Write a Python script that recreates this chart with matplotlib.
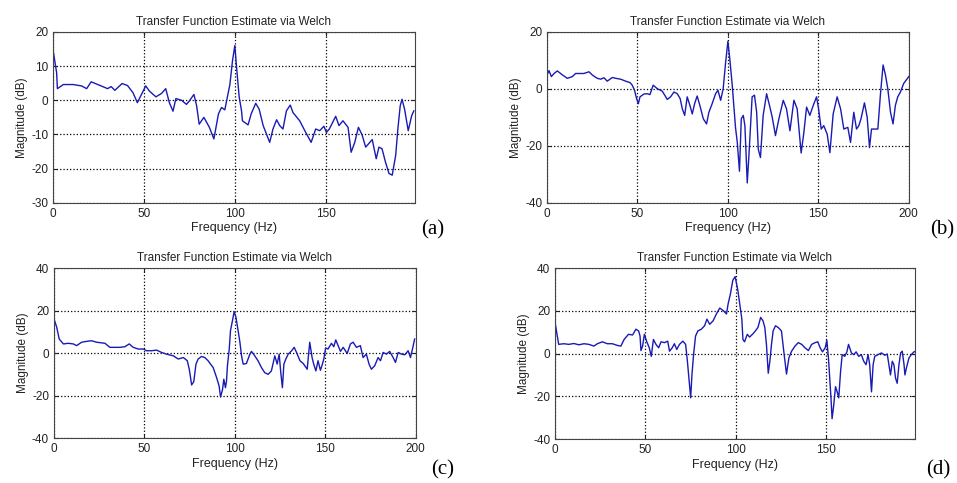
#Four Welch transfer function estimates, MATLAB style subplots
import numpy as np #numerical arrays
import matplotlib
matplotlib.use('Agg') #no display available
import matplotlib.pyplot as plt #plotting

plt.rcParams['font.family'] = ['Liberation Sans', 'DejaVu Sans']
plt.rcParams['axes.unicode_minus'] = False #MATLAB uses a plain hyphen

#Data (frequency in Hz, magnitude in dB)
freq_a = [0, 2, 2.4, 5.7, 11, 15.7, 18.5, 21, 26, 30, 32, 34, 38, 41, 44, 46.4, 47.8, 51, 53, 56.6,
          59.7, 62, 64, 66, 67.6, 70.7, 73.4, 75, 77.5, 79, 80.4, 83, 86, 88.5, 91, 92.7, 94.5, 97.3, 98.7, 100,
          101, 102.4, 103.7, 104.2, 107.3, 109, 111.5, 113.4, 115.6, 119.2, 121, 123, 124.7, 126.5, 128.4, 130.5, 132, 135.7, 139, 142,
          144.5, 146.7, 149, 150.4, 152, 155.5, 157.3, 159.5, 162.3, 164, 166, 168, 170, 172, 175.6, 177.8, 179.3, 181, 182.9, 184.8,
          186.6, 188.5, 189.7, 191, 192, 193.4, 195.4, 197.3, 198.5]
mag_a = [14.8, 8, 3.4, 4.6, 4.6, 4.2, 3.4, 5.4, 4.3, 3.4, 4, 2.9, 4.9, 4.3, 2.2, -0.7, 0.8, 4.2, 2.7, 1,
         2, 3.4, -0.7, -3.2, 0.5, 0, -1.2, -0.2, 1.7, -1.6, -7, -5, -7.9, -11.3, -4, -2.1, -2.8, 4.6, 11.4, 16,
         9.5, 1, -3.1, -6, -7.2, -4, -0.9, -2.6, -7.4, -12.3, -8.4, -5.7, -7.4, -8.4, -3.1, -1.4, -3.6, -6, -9.4, -12.3,
         -8.4, -8.9, -7.6, -9.4, -8.4, -4.7, -7.4, -6, -7.9, -15.2, -12.3, -7.9, -10.1, -13.7, -11.5, -17.1, -13.7, -14.2, -18.1, -21.4,
         -21.9, -16.1, -8.4, -1.6, 0.3, -2.6, -8.9, -4.5, -3.1]

freq_b = [0, 1.1, 2.4, 3.9, 5.7, 8.5, 11.2, 14, 15.8, 20.4, 23.2, 25, 26.3, 27.8, 29.7, 31.5, 33.3, 36.1, 38, 40.7,
          43.5, 45.9, 47.1, 48.4, 49.5, 50.5, 51.4, 53.6, 55.4, 56.9, 58.7, 60.9, 63.7, 66.5, 68.3, 70.2, 72, 73.6, 74.8, 76.1,
          77.5, 79, 80.3, 81.6, 83, 84.5, 86.4, 88.2, 89.5, 91.3, 93.2, 94.5, 96, 97.4, 98.7, 100, 101.1, 102.4, 104.2, 105.2,
          106.4, 107.4, 108.5, 109.4, 110.7, 111.6, 113.4, 114.7, 115.9, 116.8, 118, 119.5, 121.4, 123, 124.5, 126.3, 128.2, 130.6, 132.4, 134.3,
          136.5, 138.3, 140.5, 142, 143.5, 145.3, 147.2, 149, 150, 151.6, 153, 154.9, 156.4, 158.2, 160.4, 162.3, 164.1, 166.3, 167.8, 169.6,
          171.1, 172.4, 173.6, 175.5, 177, 178.3, 179.4, 182.9, 184.3, 185.8, 187.1, 188.4, 189.9, 191.3, 192.6, 193.9, 195.4, 197.2, 200]
mag_b = [4.9, 6.4, 4.3, 5.4, 6.3, 4.9, 3.7, 4.3, 5.4, 5.4, 6, 4.9, 4.3, 3.7, 3.4, 3.9, 2.7, 4, 3.7, 3.4,
         2.7, 2.2, 1.3, -0.5, -3.4, -5.2, -2.8, -1.8, -1.7, -2, 1.3, 0.1, -0.8, -3.7, -2.8, -1.1, -1.7, -3.4, -7, -9.3,
         -2.8, -5.8, -8.8, -5.2, -2.5, -5.8, -10.5, -12.3, -8.2, -5.2, -1.7, -0.5, -4, 0.1, 9, 16.7, 10.2, 1.3, -13.5, -18.8,
         -28.9, -10.5, -9.3, -12.9, -33, -23.6, -2.8, -2.2, -8.2, -21.2, -24.1, -9.3, -1.7, -5.8, -9.9, -16.4, -10.5, -4, -7, -14.7,
         -4, -7, -22.5, -15.3, -6.4, -9.3, -5.8, -2.8, -6.4, -14.1, -12.9, -15.9, -22.4, -8.8, -2.8, -7, -14.1, -13.5, -18.8, -8.2,
         -14.1, -12.9, -10.5, -4.9, -9.9, -20.6, -14.1, -14.1, -2.2, 8.4, 4.9, 0.1, -8.2, -12.3, -5.8, -2.8, -1.1, 1.9, 4.3]

freq_c = [0, 1.5, 2.9, 5.2, 7.9, 10.7, 12.5, 15.3, 18, 20.8, 23.6, 28.2, 30.9, 36.5, 39.2, 41.6, 43.8, 46.6, 49.4, 51.2,
          54, 56.7, 59.5, 62.2, 66, 68.7, 71.5, 73.7, 74.8, 75.5, 76.1, 77.3, 78.5, 79.7, 81.6, 83.4, 85.2, 88, 89.9, 91.3,
          92.1, 93.2, 93.9, 94.8, 95.4, 95.9, 96.9, 97.6, 98.7, 99.6, 100.6, 101.8, 102.8, 103.7, 104.6, 106.4, 108.3, 109.2, 111, 112.8,
          114.7, 116.5, 118.4, 120.2, 122.1, 123.4, 124.5, 125.4, 126.3, 127.1, 128.2, 129.5, 131.4, 132.8, 134.1, 136, 137.8, 140, 141.4, 142.7,
          143.6, 144.8, 146, 147.3, 148.4, 149.2, 150.2, 151.5, 153.4, 154.7, 155.8, 157.1, 158.4, 159.9, 162.1, 163.9, 165.4, 167.2, 169.4, 170.9,
          172.7, 174.2, 175.5, 177.3, 179.2, 180.5, 182, 183.8, 185.6, 187.5, 188.8, 190.3, 192.1, 194, 195.8, 197.1, 198.2, 199.4]
mag_c = [16.1, 12.2, 6.6, 4.3, 4.6, 4.3, 3.5, 5.1, 5.5, 5.8, 5.1, 4.6, 2.7, 2.7, 3, 4.3, 2.7, 1.9, 1.9, 1.1,
         1.1, 1.4, 0.3, -0.5, -1.3, -2.8, -2.1, -3.6, -7.6, -11.5, -15, -13.4, -5.2, -2.8, -1.6, -2.1, -3.6, -6.8, -11.5, -15.5,
         -20.7, -17.1, -12.3, -16.3, -13.1, -6, 1.9, 10.6, 15.3, 19.5, 16.9, 10.6, 5.1, -1.3, -5.2, -4.9, -0.5, 0.8, -1.3, -3.6,
         -6.8, -9.2, -10, -8.4, -1.3, -5.2, -0.5, -9.2, -16.3, -5.2, -2.8, -0.5, 1.1, 2.7, 0.3, -3.6, -4.9, -7.6, 5.1, -2.1,
         -5.2, -8.4, -3.6, -8.1, -5.2, -2.8, 2.4, 1.9, 4.6, 3, 6.2, 3.5, 0.8, 2.7, -0.2, 4.3, 5.1, 2.7, 3.5, -2.1,
         -0.5, -5.2, -7.6, -6, -2.1, -3.6, 0.3, -0.5, 0.8, -2.1, -4.4, 0.3, -0.5, -0.8, 1.1, -2.1, 1.9, 6.6]

freq_d = [0, 1.1, 2, 4.8, 7.6, 10.4, 13.2, 16, 18.7, 21.5, 23.4, 26.2, 28.9, 31.7, 34.5, 36.4, 38.2, 40.6, 42.9, 44.7,
          46.2, 47, 47.5, 48.4, 49.4, 50.6, 52.1, 53.2, 54.4, 55.8, 57.3, 58.6, 60.5, 62.3, 63.3, 64.8, 66, 67.3, 68.8, 70.7,
          72.2, 73.1, 74, 75, 75.7, 76.6, 77.7, 79, 80.9, 82.7, 84, 85.5, 87.4, 89.2, 91.1, 93, 94.8, 95.7, 97, 98.3,
          99.6, 101.1, 102.6, 103.3, 103.9, 104.8, 106.3, 107.6, 109.5, 110.8, 112.2, 113.7, 115, 116, 116.9, 117.9, 118.8, 119.7, 120.6, 121.9,
          123.4, 125.2, 126.7, 128, 129.3, 130.8, 132.7, 134.5, 136.4, 138.2, 140.1, 141.9, 143.8, 145.3, 146.6, 147.9, 149.4, 150.3, 151.2, 151.8,
          152.6, 153.2, 154.1, 155.1, 156, 156.9, 157.9, 158.8, 160.2, 161.4, 162.3, 163.9, 165.2, 166.5, 167.9, 169.4, 170.7, 172, 173.1, 174,
          175, 175.9, 176.8, 178.7, 180.5, 182.4, 183.7, 184.6, 185.5, 186.5, 187.4, 188.3, 189.2, 190.2, 191.1, 192, 193, 193.5, 194.3, 195.7,
          197, 198.5, 199.8]
mag_d = [14.5, 9, 4.3, 4.6, 4.3, 4.7, 4.1, 4.6, 4.3, 3.5, 4.6, 5.5, 4.6, 4.6, 3.8, 3.5, 6.6, 9, 8.7, 11.4,
         10.6, 8.2, 1.4, 3.5, 9, 5.8, 2.7, -1.3, 6.6, 4.3, 2.7, 5.5, 5.1, 5.8, 1.1, 2.7, 4.6, 1.9, 4.3, 5.8,
         4.3, -2.8, -11.5, -20.7, -10, -0.5, 8.2, 10.6, 11.4, 13, 16.1, 13.7, 15.3, 18.5, 21.3, 20.1, 18.5, 23.2, 28, 34.3,
         36, 29.5, 20.1, 16.1, 6.6, 5.5, 9, 7.7, 9.3, 10.6, 12.2, 16.9, 15.3, 12.2, 4.3, -9.2, -3.6, 4.3, 10.6, 13,
         12.2, 10.6, -0.5, -9.6, -2.1, 1.1, 3.5, 5.1, 4.3, 2.7, 1.4, 4.3, 5.1, 5.5, 2.7, 0.8, 2.7, 6.2, -2.1, -10,
         -21, -30.5, -24.2, -15.5, -17.9, -20.7, -8.4, -0.5, -1.3, 0.8, 4.3, 0.3, -0.5, 0.8, -1.3, -0.5, -3.6, -5.2, -0.5, -5.2,
         -17.9, -5.2, -1.3, -0.5, 0.3, -0.8, -0.2, -5.2, -10, -3.6, -5.2, -11.5, -13.9, -5.2, 0.3, 1.1, -5.2, -10, -6.8, -2.1,
         -0.5, 0.8, 1.1]

#Axis settings for each panel
ylims = [(-30, 20), (-40, 20), (-40, 40), (-40, 40)]
yticks = [[-30, -20, -10, 0, 10, 20], [-40, -20, 0, 20], [-40, -20, 0, 20, 40], [-40, -20, 0, 20, 40]]
xticks = [[0, 50, 100, 150], [0, 50, 100, 150, 200], [0, 50, 100, 150, 200], [0, 50, 100, 150]]
xmax = [199, 200, 200, 199]
letters = ['(a)', '(b)', '(c)', '(d)']
#axes boxes in figure fraction [left, bottom, width, height]
boxes = [[0.0554, 0.580, 0.378, 0.354], [0.5716, 0.580, 0.378, 0.354],
         [0.0564, 0.093, 0.378, 0.352], [0.580, 0.091, 0.376, 0.354]]
letter_pos = [(0.452, 0.524), (0.985, 0.524), (0.463, 0.027), (0.980, 0.027)]

freqs = [freq_a, freq_b, freq_c, freq_d]
mags = [mag_a, mag_b, mag_c, mag_d]

fig = plt.figure(figsize=(9.57, 4.83), dpi=100)
for i in range(4):
    ax = fig.add_axes(boxes[i])
    ax.plot(freqs[i], mags[i], color='#1a1ab4', linewidth=1.0)
    ax.set_xlim(0, xmax[i])
    ax.set_ylim(ylims[i])
    ax.set_xticks(xticks[i])
    ax.set_yticks(yticks[i])
    ax.grid(True, color='black', linestyle=':', linewidth=0.9)
    ax.tick_params(direction='in', top=True, right=True, labelsize=8.5, colors='#222222', length=3)
    for s in ax.spines.values():
        s.set_color('#444444')
    ax.set_title('Transfer Function Estimate via Welch', fontsize=8.5, color='#222222', pad=5)
    ax.set_xlabel('Frequency (Hz)', fontsize=9, color='#222222', labelpad=2)
    ax.set_ylabel('Magnitude (dB)', fontsize=8.5, color='#222222', labelpad=2)
    fig.text(letter_pos[i][0], letter_pos[i][1], letters[i], fontsize=15, family='Liberation Serif',
             ha='center', va='center')

fig.savefig('out.png', dpi=100)
